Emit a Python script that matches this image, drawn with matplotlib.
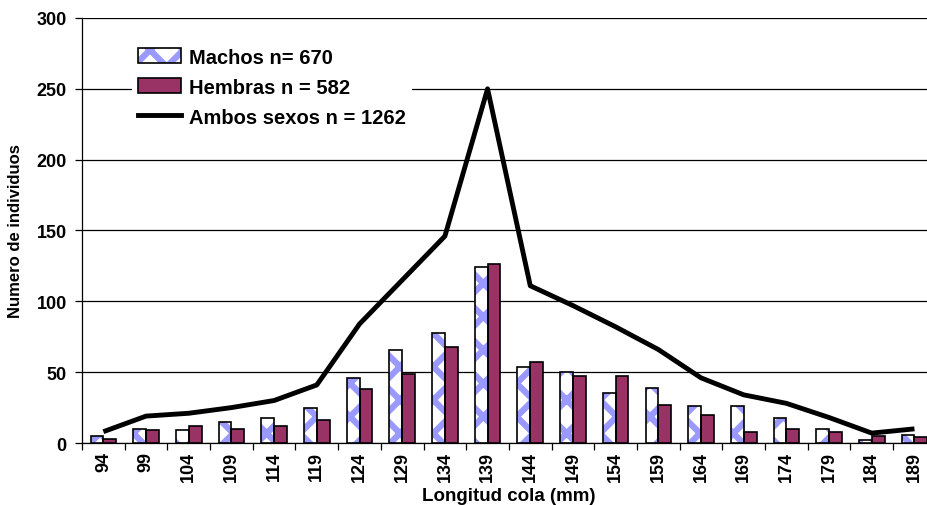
import numpy as np
import matplotlib.pyplot as plt
from matplotlib.patches import Patch
from matplotlib.lines import Line2D

plt.rcParams['font.family'] = ['Liberation Sans', 'DejaVu Sans']
plt.rcParams['font.weight'] = 'bold'
plt.rcParams['hatch.linewidth'] = 4.5

# datos
categorias = ['94', '99', '104', '109', '114', '119', '124', '129', '134', '139',
              '144', '149', '154', '159', '164', '169', '174', '179', '184', '189']
machos = [5, 10, 9, 15, 18, 25, 46, 66, 78, 124, 54, 50, 35, 39, 26, 26, 18, 10, 2, 6]
hembras = [3, 9, 12, 10, 12, 16, 38, 49, 68, 126, 57, 47, 47, 27, 20, 8, 10, 8, 5, 4]
ambos = [8, 19, 21, 25, 30, 41, 84, 115, 146, 250, 111, 97, 82, 66, 46, 34, 28, 18, 7, 10]

color_m = '#9999FF'
color_h = '#993366'

fig = plt.figure(figsize=(9.27, 5.06), dpi=100)
# el area de trazado sobresale un poco por la derecha, como en el original
ax = fig.add_axes([0.0885, 0.1225, 0.921, 0.84])

x = np.arange(len(categorias))
w = 0.3

# machos: fondo blanco con patron azul, luego contorno negro
ax.bar(x - w / 2, machos, w, color='white', edgecolor=color_m, hatch='x', linewidth=0, zorder=3)
ax.bar(x - w / 2, machos, w, fill=False, edgecolor='black', linewidth=1.2, zorder=4)
ax.bar(x + w / 2, hembras, w, color=color_h, edgecolor='black', linewidth=1.2, zorder=3)
ax.plot(x, ambos, color='black', linewidth=3.5, solid_capstyle='butt', zorder=5)

ax.set_xlim(-0.5, len(categorias) - 0.5)
ax.set_ylim(0, 300)
ax.set_yticks(range(0, 301, 50))
ax.yaxis.grid(True, color='black', linewidth=0.9, zorder=0)
ax.set_axisbelow(True)

ax.set_xticks(x)
ax.set_xticklabels(categorias, rotation=90, fontsize=13, fontweight='bold')
ax.tick_params(axis='x', length=0, pad=6)
ax.set_xticks(np.arange(-0.5, len(categorias), 1), minor=True)
ax.tick_params(axis='x', which='minor', length=5, width=0.9, direction='out')
ax.tick_params(axis='y', length=5, width=0.9, direction='out', labelsize=13, pad=6)
for lbl in ax.get_yticklabels():
    lbl.set_fontweight('bold')

for s in ['top', 'right']:
    ax.spines[s].set_visible(False)
ax.spines['left'].set_linewidth(0.9)
ax.spines['bottom'].set_linewidth(0.9)

ax.set_xlabel('Longitud cola (mm)', fontsize=13.5, fontweight='bold', labelpad=4)
ax.set_ylabel('Numero de individuos', fontsize=12, fontweight='bold', labelpad=10)

h_m = Patch(facecolor='white', edgecolor=color_m, hatch='x', linewidth=0)
h_m2 = Patch(facecolor='none', edgecolor='black', linewidth=1.2)
h_h = Patch(facecolor=color_h, edgecolor='black', linewidth=1.2)
h_a = Line2D([0], [0], color='black', linewidth=3.5)
leg = ax.legend([(h_m, h_m2), h_h, h_a],
                ['Machos n= 670', 'Hembras n = 582', 'Ambos sexos n = 1262'],
                loc='upper left', bbox_to_anchor=(0.047, 0.968), frameon=True,
                facecolor='white', edgecolor='none', fancybox=False, framealpha=1,
                prop={'size': 14.5, 'weight': 'bold'}, handlelength=2.1,
                handleheight=0.8, handletextpad=0.4, labelspacing=0.55, borderpad=0.3)

fig.savefig('out.png', dpi=100)
